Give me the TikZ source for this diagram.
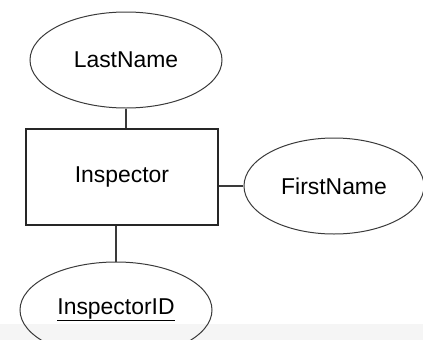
\documentclass[tikz,border=0pt]{standalone}
\usepackage{fontspec}
\setmainfont{Liberation Sans}
\usetikzlibrary{shapes.geometric}
\definecolor{lngrey}{HTML}{3A3A3A}
\definecolor{bandgrey}{HTML}{F5F5F5}

\begin{document}
\begin{tikzpicture}[x=1bp,y=-1bp,
        attr/.style={draw=lngrey,ellipse,line width=1bp,minimum width=192bp,
                     minimum height=96bp,inner sep=0pt,font=\fontsize{23}{27}\selectfont},
        ent/.style={draw=black!85,rectangle,line width=1.1bp,minimum width=192bp,
                    minimum height=96bp,inner sep=0pt,font=\fontsize{23}{27}\selectfont},
        ln/.style={draw=lngrey,line width=1.1bp}]
      \useasboundingbox (0,0) rectangle (423,340);
      \fill[bandgrey] (0,324) rectangle (423,340);
      \node[ent] (insp) at (122,177) {Inspector};
      \node[attr] (last) at (126,60) {LastName};
      \node[attr,minimum width=180bp] (first) at (334,186) {FirstName};
      \node[attr] (id) at (116,310) {\underline{InspectorID}};
      \draw[ln] (last.south) -- (last.south |- insp.north);
      \draw[ln] (first.west) -- (insp.east |- first.west);
      \draw[ln] (id.north |- insp.south) -- (id.north);
    \end{tikzpicture}
\end{document}
